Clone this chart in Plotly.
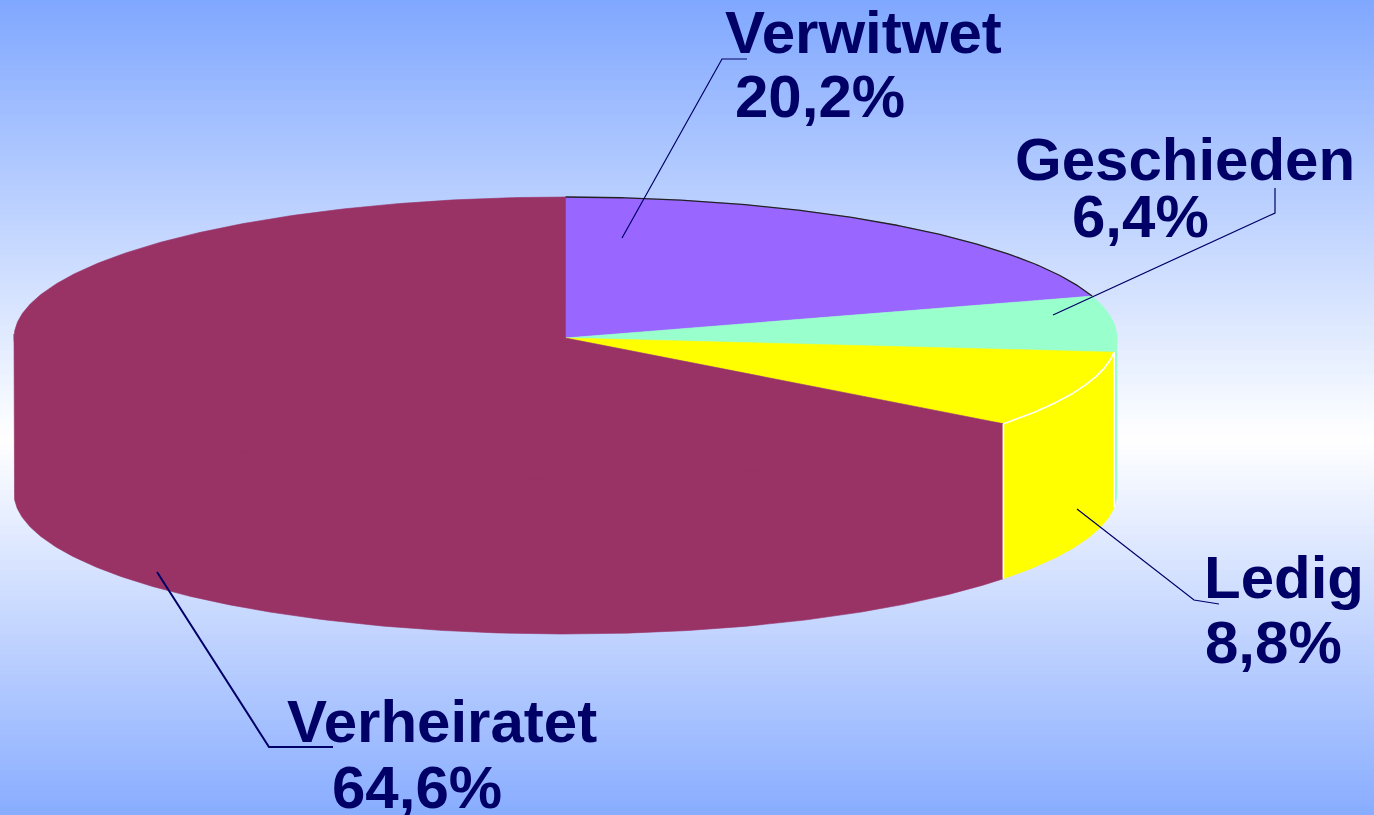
import numpy as np
import plotly.graph_objects as go

# ---------------- data ----------------
categories = ["Verwitwet", "Geschieden", "Ledig", "Verheiratet"]
values = [20.2, 6.4, 8.8, 64.6]
colors = ["#9966FF", "#99FFCC", "#FFFF00", "#993366"]

# ---------------- geometry / style (layout constants) ----------------
W, H = 1374, 815
CX, CY, RX, RY, DEPTH = 565.5, 338.0, 551.5, 141.0, 155.0
TEXT_COLOR = "#000066"
FONT = "Liberation Sans, Arial, sans-serif"

# label placement: (x line 1, y line 1 centre, x line 2, y line 2 centre)
label_pos = {
    "Verwitwet": (723, 32, 733, 96),
    "Geschieden": (1013, 159, 1070, 216),
    "Ledig": (1202, 577, 1203, 642),
    "Verheiratet": (285, 721, 330, 787),
}
leader_lines = {
    "Verwitwet": ([622, 722, 747], [238, 59, 59], 1.2),
    "Geschieden": ([1053, 1275, 1275], [315, 213, 188], 1.2),
    "Ledig": ([1077, 1194, 1219], [509, 600, 604], 1.2),
    "Verheiratet": ([157, 269, 333], [572, 747, 747], 2.0),
}


def arc(t0, t1, dy=0.0, n=200):
    t = np.radians(np.linspace(t0, t1, n))
    return CX + RX * np.cos(t), CY - RY * np.sin(t) + dy


fractions = np.array(values) / np.sum(values)
cum = np.concatenate([[0.0], np.cumsum(fractions)])
starts = 90.0 - 360.0 * cum[:-1]
ends = 90.0 - 360.0 * cum[1:]

fig = go.Figure()

# ---- side faces (front half only: angles between -180 and 0) ----
side_ranges = {}
for i in [3, 2, 1]:
    a, b = starts[i], ends[i]
    hi, lo = min(a, 0.0), max(b, -180.0)
    if hi <= lo:
        continue
    side_ranges[categories[i]] = (hi, lo)
    n = max(int((hi - lo) * 2), 4)
    tx, ty = arc(hi, lo, dy=-4, n=n)
    bx, by = arc(lo, hi, dy=DEPTH, n=n)
    xs = np.concatenate([tx, bx, [tx[0]]])
    ys = np.concatenate([ty, by, [ty[0]]])
    fig.add_trace(go.Scatter(x=xs, y=ys, mode="lines", fill="toself",
                             fillcolor=colors[i], line=dict(color=colors[i], width=0.6),
                             hoverinfo="skip"))

# ---- top faces ----
for cat, c, a, b in zip(categories, colors, starts, ends):
    n = max(int(abs(a - b) * 2), 4)
    ax, ay = arc(a, b, n=n)
    xs = np.concatenate([[CX], ax, [CX]])
    ys = np.concatenate([[CY], ay, [CY]])
    fig.add_trace(go.Scatter(x=xs, y=ys, mode="lines", fill="toself",
                             fillcolor=c, line=dict(color=c, width=0.6),
                             hoverinfo="skip", name=cat))

# white edges around the "Ledig" side face
hi, lo = side_ranges["Ledig"]
wx, wy = arc(hi, lo)
fig.add_trace(go.Scatter(x=wx, y=wy, mode="lines",
                         line=dict(color="#FFFFFF", width=1.6), hoverinfo="skip"))
for t in (hi, lo):
    px, py = arc(t, t, n=1)
    fig.add_trace(go.Scatter(x=[px[0], px[0]], y=[py[0], py[0] + DEPTH], mode="lines",
                             line=dict(color="#FFFFFF", width=1.6), hoverinfo="skip"))

# dark outline on the back rim of the first slice
ox, oy = arc(starts[0], ends[0])
fig.add_trace(go.Scatter(x=ox, y=oy, mode="lines",
                         line=dict(color="#222222", width=1.3), hoverinfo="skip"))

# ---- leader lines ----
for cat in categories:
    lx, ly, lw = leader_lines[cat]
    fig.add_trace(go.Scatter(x=lx, y=ly, mode="lines",
                             line=dict(color=TEXT_COLOR, width=lw), hoverinfo="skip"))

# ---- labels ----
for cat, v in zip(categories, values):
    x1, y1, x2, y2 = label_pos[cat]
    pct = f"{v:.1f}".replace(".", ",") + "%"
    for txt, x, y in ((cat, x1, y1), (pct, x2, y2)):
        fig.add_annotation(x=x, y=y, xref="x", yref="y", text=txt, showarrow=False,
                           xanchor="left", yanchor="middle",
                           font=dict(family=FONT, size=60, color=TEXT_COLOR, weight="bold"))

# ---- gradient background ----
stops = [(0.0, (128, 168, 255)), (0.54, (255, 255, 255)), (1.0, (136, 172, 255))]


def grad(t):
    for (t0, c0), (t1, c1) in zip(stops[:-1], stops[1:]):
        if t0 <= t <= t1:
            f = (t - t0) / (t1 - t0)
            return "rgb(%d,%d,%d)" % tuple(round(c0[k] + (c1[k] - c0[k]) * f) for k in range(3))
    return "rgb(%d,%d,%d)" % stops[-1][1]


step = 5
shapes = []
for y0 in range(0, H, step):
    shapes.append(dict(type="rect", xref="paper", yref="y", x0=0, x1=1,
                       y0=y0, y1=y0 + step + 1, fillcolor=grad((y0 + step / 2) / H),
                       line=dict(width=0), layer="below"))

fig.update_layout(
    width=W, height=H, margin=dict(l=0, r=0, t=0, b=0),
    showlegend=False, paper_bgcolor="white", plot_bgcolor="white",
    xaxis=dict(range=[0, W], visible=False, fixedrange=True),
    yaxis=dict(range=[H, 0], visible=False, fixedrange=True),
    shapes=shapes,
)

fig.write_html("out.html", config={"displayModeBar": False},
               post_script="document.body.style.margin='0';document.body.style.overflow='hidden';")
